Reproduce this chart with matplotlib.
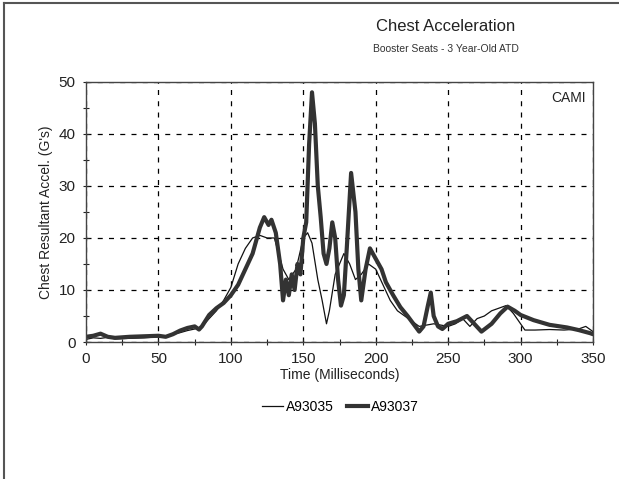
import matplotlib.pyplot as plt
from matplotlib.ticker import MultipleLocator

plt.rcParams['font.family'] = ['Liberation Sans', 'DejaVu Sans']

# A93035 (thin line)
t_a35 = [0, 5, 10, 15, 20, 30, 40, 50, 55, 60, 65, 70, 75, 80, 85, 90, 95, 100,
         105, 110, 115, 120, 125, 130, 133, 136, 140, 145, 150, 153, 156, 160,
         163, 166, 168, 172, 175, 178, 182, 186, 190, 195, 200, 205, 210, 215,
         220, 230, 240, 250, 255, 260, 265, 270, 275, 280, 285, 290, 295, 300,
         303, 310, 320, 330, 340, 345, 350]
g_a35 = [0.5, 0.8, 0.7, 0.9, 0.6, 0.7, 0.8, 1.0, 1.0, 1.5, 1.8, 2.2, 2.5, 3.0,
         4.5, 6.0, 8.0, 10.5, 15.0, 18.0, 20.0, 20.5, 20.0, 20.0, 17.0, 14.0,
         12.0, 14.0, 20.0, 21.0, 19.0, 12.0, 8.0, 3.5, 6.0, 13.0, 15.0, 17.0,
         15.0, 12.0, 13.0, 15.0, 14.0, 11.0, 8.0, 6.0, 5.0, 3.0, 3.5, 3.0, 3.5,
         4.5, 3.0, 4.5, 5.0, 6.0, 6.5, 7.0, 5.5, 3.5, 2.3, 2.3, 2.4, 2.3, 2.5,
         3.0, 2.0]

# A93037 (thick line)
t_a37 = [0, 5, 10, 15, 20, 30, 40, 50, 55, 60, 65, 70, 75, 78, 80, 85, 90, 95,
         100, 105, 110, 115, 120, 123, 126, 128, 131, 134, 136, 138, 140, 142,
         144, 146, 148, 150, 152, 154, 156, 158, 160, 162, 164, 166, 168, 170,
         172, 174, 176, 178, 180, 183, 186, 188, 190, 193, 196, 198, 201, 204,
         207, 212, 217, 222, 226, 230, 233, 236, 238, 240, 243, 246, 250, 256,
         263, 268, 273, 280, 286, 291, 296, 300, 309, 320, 332, 340, 348, 350]
g_a37 = [1.0, 1.2, 1.6, 1.0, 0.8, 1.0, 1.1, 1.2, 1.0, 1.5, 2.2, 2.7, 3.0, 2.4,
         3.0, 5.2, 6.5, 7.5, 9.0, 11.0, 14.0, 17.0, 22.0, 24.0, 22.5, 23.5,
         21.0, 15.0, 8.0, 12.0, 9.0, 13.0, 10.0, 15.0, 13.0, 20.0, 23.0, 38.0,
         48.0, 42.0, 30.0, 24.0, 17.0, 15.0, 18.0, 23.0, 20.0, 12.0, 7.0, 9.0,
         18.0, 32.5, 25.0, 14.0, 8.0, 14.0, 18.0, 17.0, 15.5, 14.0, 11.5, 9.0,
         6.7, 5.0, 3.5, 2.0, 3.0, 7.0, 9.5, 5.0, 3.0, 2.5, 3.5, 4.0, 5.0, 3.5,
         2.0, 3.5, 5.5, 6.8, 6.0, 5.2, 4.2, 3.3, 2.8, 2.3, 1.7, 1.5]

xticks = [0, 50, 100, 150, 200, 250, 300, 350]
yticks = [0, 10, 20, 30, 40, 50]

fig = plt.figure(figsize=(6.19, 4.79), dpi=100)
ax = fig.add_axes([0.139, 0.286, 0.819, 0.543])

ax.plot(t_a35, g_a35, color='#111111', lw=0.9, label='A93035')
ax.plot(t_a37, g_a37, color='#333333', lw=3.0, label='A93037')

ax.set_xlim(0, 350)
ax.set_ylim(0, 50)
ax.set_xticks(xticks)
ax.set_yticks(yticks)
ax.xaxis.set_minor_locator(MultipleLocator(25))
ax.yaxis.set_minor_locator(MultipleLocator(5))
ax.tick_params(which='both', direction='inout', length=5, width=0.8, labelsize=11,
               colors='#222222', pad=5)
ax.tick_params(which='minor', length=4)
ax.grid(True, which='major', color='black', ls=(0, (4, 5)), lw=0.9)
for s in ax.spines.values():
    s.set_color('#444444')
    s.set_linewidth(1.0)

ax.set_xlabel('Time (Milliseconds)', fontsize=10, color='#222222', labelpad=1)
ax.set_ylabel("Chest Resultant Accel. (G's)", fontsize=10, color='#222222', labelpad=4)
ax.text(0.985, 0.94, 'CAMI', transform=ax.transAxes, ha='right', va='center',
        fontsize=10, color='#222222')

fig.text(0.72, 0.945, 'Chest Acceleration', ha='center', va='center', fontsize=12, color='#222222')
fig.text(0.72, 0.898, 'Booster Seats - 3 Year-Old ATD', ha='center', va='center', fontsize=7.5, color='#333333')

fig.legend(loc='center', bbox_to_anchor=(0.55, 0.15), ncol=2, frameon=False, fontsize=10,
           handlelength=1.5, handletextpad=0.2, columnspacing=1.0)

# figure frame on left and top
fig.add_artist(plt.Line2D([0.007, 0.007], [0.0, 0.993], transform=fig.transFigure, color='#555555', lw=1.5))
fig.add_artist(plt.Line2D([0.007, 1.0], [0.993, 0.993], transform=fig.transFigure, color='#555555', lw=1.5))

fig.savefig('out.png', dpi=100)
